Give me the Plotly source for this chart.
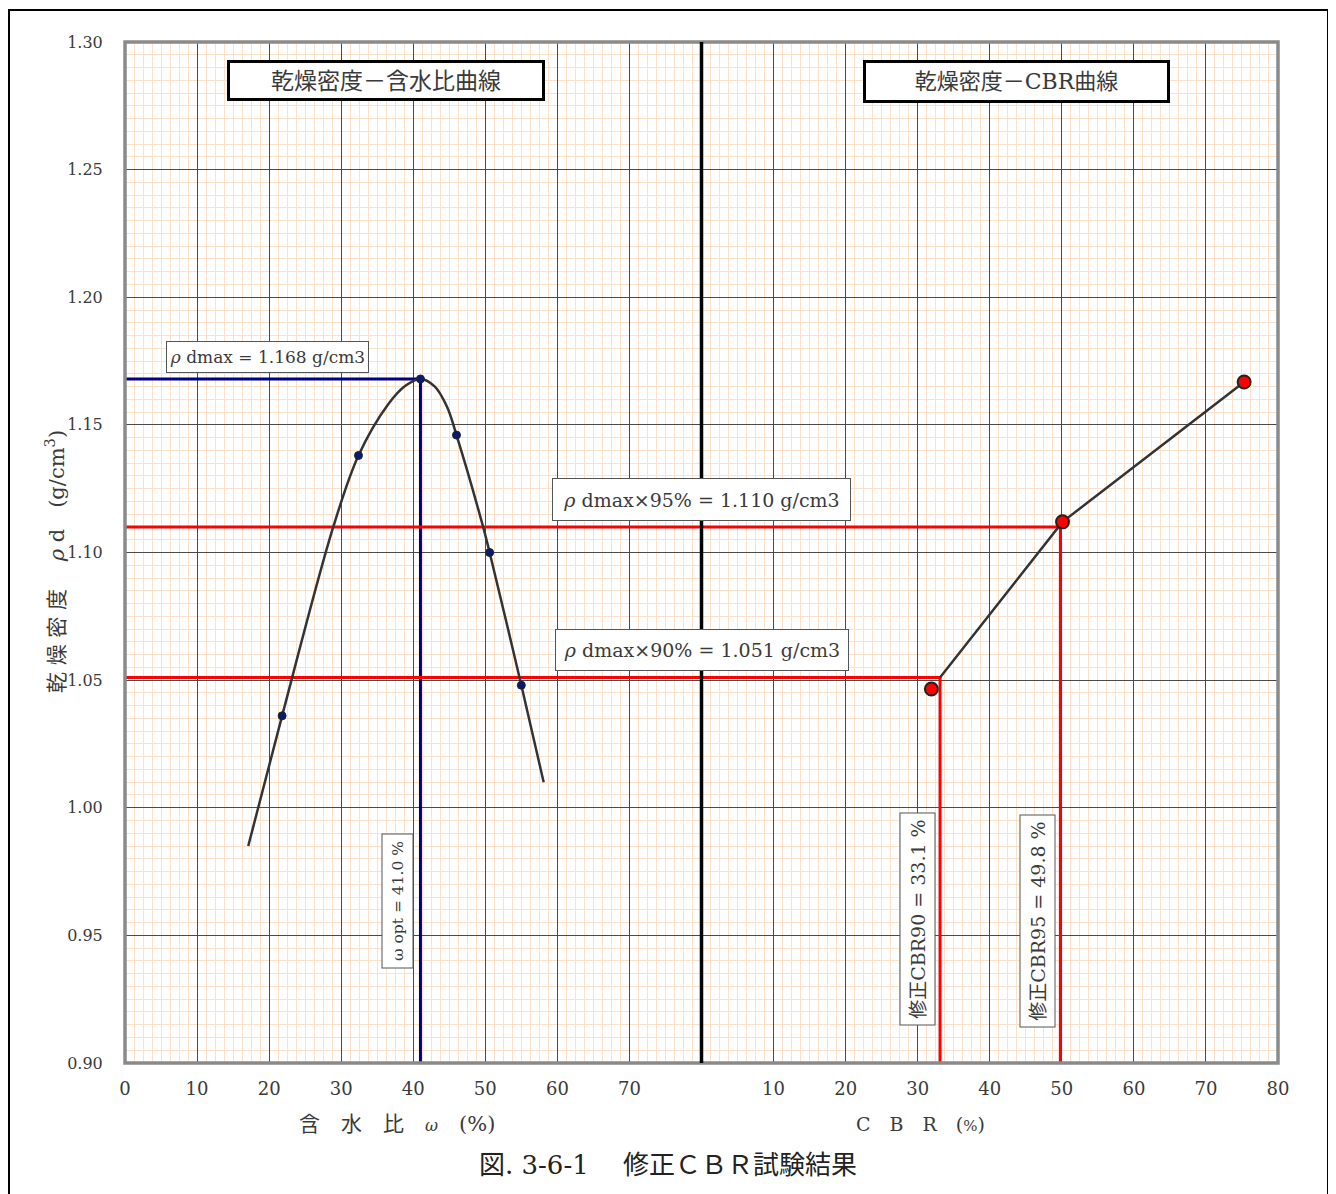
import plotly.graph_objects as go

# ---------------- data ----------------
# measured points: dry density vs water content
test_w = [21.8, 32.4, 41.0, 46.0, 50.6, 55.0]
test_rho = [1.036, 1.138, 1.168, 1.146, 1.100, 1.048]

# fitted compaction curve
curve_w = [17.1, 21.8, 28.9, 32.4, 36.5, 39.0, 41.0, 43.0, 44.7, 46.0, 49.7, 50.6, 55.0, 58.1]
curve_rho = [0.985, 1.036, 1.110, 1.138, 1.158, 1.1655, 1.168, 1.165, 1.157, 1.146, 1.110, 1.100, 1.048, 1.010]

# CBR points
cbr_x = [31.9, 50.1, 75.3]
cbr_rho = [1.0465, 1.112, 1.1668]
cbr_line_x = [33.1, 50.1, 75.3]
cbr_line_rho = [1.051, 1.112, 1.1668]

rho_dmax = 1.168
w_opt = 41.0
rho95 = 1.110
rho90 = 1.051
cbr90 = 33.1
cbr95 = 49.8

w_ticks = [0, 10, 20, 30, 40, 50, 60, 70]
cbr_ticks = [10, 20, 30, 40, 50, 60, 70, 80]
y_ticks = [0.90, 0.95, 1.00, 1.05, 1.10, 1.15, 1.20, 1.25, 1.30]

SERIF = "DejaVu Serif, Noto Sans CJK JP, serif"
TXT = "#3a3a3a"

# page is offset by the 8px body margin; work in page coordinates
OFF = 8
W, H = 1336 - OFF, 1194 - OFF
PL, PR, PT, PB = 125, 1278, 42, 1063          # plot area in page px
L, T = PL - OFF, PT - OFF
R = W - (PR - OFF)
B = H - (PB - OFF)
PW, PH = PR - PL, PB - PT


def px(x):
    return (x - PL) / PW


def py(y):
    return (PB - y) / PH


fig = go.Figure()

# reference lines (left panel)
fig.add_trace(go.Scatter(x=[0, w_opt], y=[rho_dmax, rho_dmax], mode="lines",
                         line=dict(color="#000080", width=3), xaxis="x", yaxis="y", hoverinfo="skip"))
fig.add_trace(go.Scatter(x=[w_opt, w_opt], y=[0.90, rho_dmax], mode="lines",
                         line=dict(color="#000080", width=3), xaxis="x", yaxis="y", hoverinfo="skip"))
fig.add_trace(go.Scatter(x=[0, 80], y=[rho95, rho95], mode="lines",
                         line=dict(color="#ff0000", width=3), xaxis="x", yaxis="y", hoverinfo="skip"))
fig.add_trace(go.Scatter(x=[0, 80], y=[rho90, rho90], mode="lines",
                         line=dict(color="#ff0000", width=3), xaxis="x", yaxis="y", hoverinfo="skip"))
# reference lines (right panel)
fig.add_trace(go.Scatter(x=[0, cbr95, cbr95], y=[rho95, rho95, 0.90], mode="lines",
                         line=dict(color="#ff0000", width=3), xaxis="x2", yaxis="y", hoverinfo="skip"))
fig.add_trace(go.Scatter(x=[0, cbr90, cbr90], y=[rho90, rho90, 0.90], mode="lines",
                         line=dict(color="#ff0000", width=3), xaxis="x2", yaxis="y", hoverinfo="skip"))

# compaction curve
fig.add_trace(go.Scatter(x=curve_w, y=curve_rho, mode="lines",
                         line=dict(color="#333333", width=2.5, shape="spline", smoothing=1.0),
                         xaxis="x", yaxis="y"))
fig.add_trace(go.Scatter(x=test_w, y=test_rho, mode="markers",
                         marker=dict(color="#0a1a70", size=8, line=dict(color="#222222", width=1)),
                         xaxis="x", yaxis="y"))
# CBR curve
fig.add_trace(go.Scatter(x=cbr_line_x, y=cbr_line_rho, mode="lines",
                         line=dict(color="#333333", width=2.5), xaxis="x2", yaxis="y"))
fig.add_trace(go.Scatter(x=cbr_x, y=cbr_rho, mode="markers",
                         marker=dict(color="#ff0000", size=13, line=dict(color="#222222", width=2)),
                         xaxis="x2", yaxis="y"))

minor_grid = dict(showgrid=True, gridcolor="#fde0c8", gridwidth=1)
common_x = dict(range=[0, 80], showgrid=True, gridcolor="#4a4a4a", gridwidth=1, zeroline=False,
                showline=False, ticks="outside", ticklen=9, tickcolor="rgba(0,0,0,0)",
                tickfont=dict(family=SERIF, size=18, color=TXT), fixedrange=True)

fig.update_layout(
    width=W, height=H,
    margin=dict(l=L, r=R, t=T, b=B),
    paper_bgcolor="white", plot_bgcolor="white",
    showlegend=False,
    xaxis=dict(domain=[0, 0.5], anchor="y", tickvals=w_ticks, ticktext=[str(v) for v in w_ticks],
               minor=dict(dtick=1.25, tick0=0, **minor_grid), **common_x),
    xaxis2=dict(domain=[0.5, 1], anchor="y", tickvals=cbr_ticks, ticktext=[str(v) for v in cbr_ticks],
                minor=dict(dtick=1.25, tick0=0, **minor_grid), **common_x),
    yaxis=dict(range=[0.90, 1.30], tickvals=y_ticks, ticktext=[f"{v:.2f}" for v in y_ticks],
               showgrid=True, gridcolor="#4a4a4a", gridwidth=1, zeroline=False, showline=False,
               ticks="outside", ticklen=18, tickcolor="rgba(0,0,0,0)",
               tickfont=dict(family=SERIF, size=16, color=TXT),
               minor=dict(dtick=0.005, tick0=0.9, **minor_grid), fixedrange=True),
)

# plot border, centre divider, outer frame
fig.add_shape(type="rect", xref="paper", yref="paper", x0=0, x1=1, y0=0, y1=1,
              line=dict(color="#8a8a8a", width=3.5), layer="above")
fig.add_shape(type="line", xref="paper", yref="paper", x0=0.5, x1=0.5, y0=0, y1=1,
              line=dict(color="#000000", width=3.5), layer="above")
fig.add_shape(type="rect", xref="paper", yref="paper", x0=px(9), x1=px(1328), y0=py(10), y1=py(1230),
              line=dict(color="#000000", width=2), layer="above")


def box(text, cx, cy, w, h, size, bw=1, bcol="#555555", angle=0):
    fig.add_annotation(text=text, xref="paper", yref="paper", x=px(cx), y=py(cy),
                       xanchor="center", yanchor="middle", showarrow=False,
                       width=w, height=h, textangle=angle, align="center", valign="middle",
                       font=dict(family=SERIF, size=size, color=TXT),
                       bgcolor="white", bordercolor=bcol, borderwidth=bw, borderpad=0)


box("乾燥密度－含水比曲線", 385.5, 80.5, 312, 35, 23, bw=3, bcol="#000000")
box("乾燥密度－CBR曲線", 1016, 81.5, 301, 37, 22, bw=3, bcol="#000000")
box(f"<i>ρ</i> dmax = {rho_dmax:.3f} g/cm3", 267.5, 357, 201, 30, 17)
box(f"<i>ρ</i> dmax×95% = {rho95:.3f} g/cm3", 701.5, 499.5, 297, 41, 19)
box(f"<i>ρ</i> dmax×90% = {rho90:.3f} g/cm3", 702, 650, 292, 40, 19)
box(f"ω opt = {w_opt:.1f} %", 397, 901.5, 133, 30, 15.5, angle=-90)
box(f"修正CBR90 = {cbr90:.1f} %", 917, 919.5, 211, 34, 19, angle=-90)
box(f"修正CBR95 = {cbr95:.1f} %", 1038, 921.5, 211, 34, 19, angle=-90)


def label(text, cx, cy, size, angle=0, color=TXT):
    fig.add_annotation(text=text, xref="paper", yref="paper", x=px(cx), y=py(cy),
                       xanchor="center", yanchor="middle", showarrow=False, textangle=angle,
                       font=dict(family=SERIF, size=size, color=color))


label("含　水　比　<i><span style='font-size:16px'>ω</span></i>　(%)", 397, 1124, 21)
label("C　B　R　(<span style='font-size:15px'>%</span>)", 920, 1124, 19)
label("乾 燥 密 度　 <i>ρ</i> d　(g/cm<sup>3</sup>)", 55, 562, 21, angle=-90)
label("図. 3-6-1　 修正ＣＢＲ試験結果", 668, 1165, 26, color="#222222")

fig.write_html("out.html")
